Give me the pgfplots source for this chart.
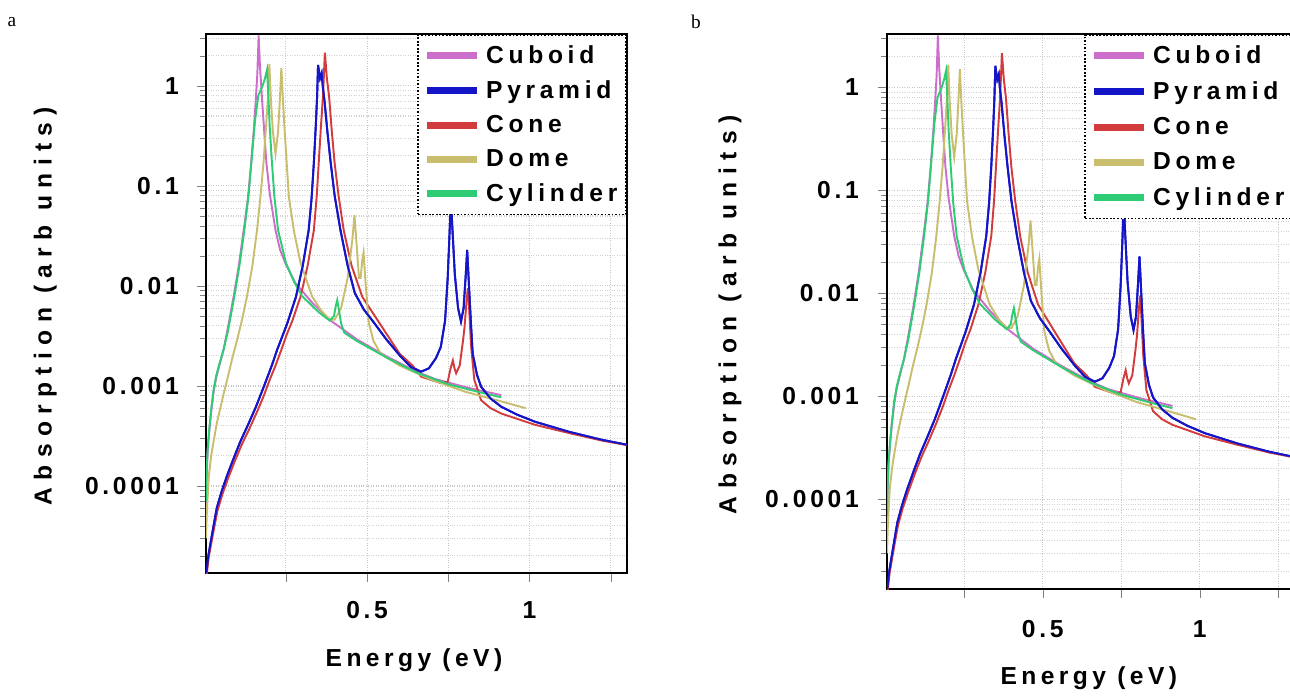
\documentclass[border=0pt]{standalone}
\usepackage{fontspec}
\setmainfont{Liberation Sans}
\newfontfamily\tkfont{Liberation Sans}[LetterSpace=15]
\newfontfamily\lgfont{Liberation Sans}[LetterSpace=19]
\newfontfamily\ylfont{Liberation Sans}[LetterSpace=30]
\newfontfamily\xlfont{Liberation Sans}[LetterSpace=18]
\newfontfamily\seriffont{Liberation Serif}
\usepackage{pgfplots}
\usepackage{pgfplotstable}
\pgfplotsset{compat=1.18}

\definecolor{cCub}{HTML}{CC6FCC}
\definecolor{cPyr}{HTML}{1414C8}
\definecolor{cCon}{HTML}{D23C3C}
\definecolor{cDom}{HTML}{C8BE6E}
\definecolor{cCyl}{HTML}{2ECC74}

% absorption spectra (energy in eV, arb units)
\pgfplotstableread{
x y
0.004 6e-5
0.006 1.3e-4
0.009 2.2e-4
0.014 3.5e-4
0.020 5.5e-4
0.027 8.5e-4
0.035 1.2e-3
0.045 1.6e-3
0.058 2.3e-3
0.072 3.9e-3
0.089 7.8e-3
0.105 0.016
0.120 0.036
0.133 0.075
0.143 0.17
0.151 0.36
0.157 0.7
0.162 1.3
0.166 3.2
0.170 1.6
0.176 0.78
0.182 0.4
0.190 0.17
0.200 0.085
0.218 0.036
0.232 0.023
0.248 0.017
0.279 0.0107
0.331 0.0068
0.388 0.0045
0.470 0.0029
0.563 0.00195
0.655 0.00138
0.707 0.00118
0.810 9.6e-4
0.913 8.1e-4
}\tabCub

\pgfplotstableread{
x y
0.005 1.35e-5
0.0115 2.04e-5
0.022 3.2e-5
0.037 6.0e-5
0.052 8.8e-5
0.068 1.25e-4
0.088 1.85e-4
0.109 2.75e-4
0.132 4.0e-4
0.156 6.0e-4
0.175 8.6e-4
0.192 1.2e-3
0.208 1.65e-3
0.223 2.3e-3
0.240 3.2e-3
0.255 4.3e-3
0.281 7.8e-3
0.302 0.016
0.320 0.036
0.329 0.075
0.336 0.17
0.342 0.4
0.346 0.78
0.349 1.62
0.355 1.19
0.360 1.34
0.364 0.95
0.369 0.7
0.378 0.34
0.388 0.169
0.400 0.08
0.418 0.036
0.440 0.016
0.462 0.0085
0.490 0.0058
0.521 0.0043
0.560 0.0029
0.604 0.00196
0.635 0.00155
0.666 0.00139
0.690 0.0015
0.712 0.0019
0.727 0.00247
0.740 0.0045
0.748 0.012
0.754 0.035
0.758 0.075
0.763 0.035
0.770 0.013
0.780 0.006
0.789 0.0044
0.797 0.006
0.803 0.012
0.808 0.0229
0.813 0.011
0.820 0.004
0.825 0.0021
0.838 0.0013
0.851 9.8e-4
0.880 7.5e-4
0.913 6.2e-4
0.960 5.2e-4
1.016 4.4e-4
1.119 3.5e-4
1.222 2.9e-4
1.304 2.57e-4
}\tabPyr

\pgfplotstableread{
x y
0.005 1.2e-5
0.012 1.9e-5
0.023 3.0e-5
0.039 5.6e-5
0.054 8.2e-5
0.071 1.17e-4
0.091 1.72e-4
0.113 2.55e-4
0.137 3.7e-4
0.162 5.6e-4
0.182 8.0e-4
0.200 1.15e-3
0.218 1.6e-3
0.236 2.3e-3
0.253 3.3e-3
0.270 4.5e-3
0.295 7.8e-3
0.317 0.016
0.336 0.036
0.345 0.08
0.351 0.17
0.358 0.4
0.364 0.78
0.370 2.15
0.376 1.2
0.383 0.78
0.391 0.36
0.400 0.169
0.412 0.08
0.428 0.036
0.452 0.016
0.485 0.0078
0.537 0.0043
0.600 0.0021
0.640 0.0016
0.666 0.00124
0.727 0.00107
0.748 0.0011
0.757 0.0015
0.764 0.0018
0.769 0.0015
0.774 0.00134
0.785 0.0016
0.795 0.0028
0.800 0.0039
0.806 0.007
0.810 0.0095
0.814 0.006
0.820 0.0025
0.830 0.00115
0.851 7.2e-4
0.880 6.0e-4
0.913 5.3e-4
1.016 4.1e-4
1.119 3.4e-4
1.222 2.85e-4
1.304 2.55e-4
}\tabCon

\pgfplotstableread{
x y
0.004 3e-5
0.007 6e-5
0.013 1.29e-4
0.020 2.0e-4
0.027 2.75e-4
0.037 4.2e-4
0.048 6.0e-4
0.060 8.8e-4
0.073 1.3e-3
0.085 1.9e-3
0.100 2.9e-3
0.115 4.6e-3
0.130 7.8e-3
0.147 0.016
0.161 0.036
0.172 0.08
0.181 0.17
0.189 0.4
0.195 0.78
0.199 1.65
0.204 0.7
0.210 0.35
0.218 0.21
0.226 0.35
0.232 0.8
0.236 1.5
0.241 0.7
0.246 0.36
0.259 0.078
0.275 0.035
0.295 0.017
0.331 0.0078
0.360 0.0056
0.385 0.0046
0.400 0.0046
0.420 0.006
0.440 0.012
0.455 0.03
0.461 0.051
0.468 0.025
0.475 0.012
0.480 0.012
0.485 0.018
0.489 0.0216
0.495 0.011
0.505 0.0043
0.520 0.0028
0.542 0.0021
0.600 0.0016
0.700 0.00115
0.800 8.8e-4
0.900 7.2e-4
0.988 6.0e-4
}\tabDom

\pgfplotstableread{
x y
0.004 7e-5
0.006 1.4e-4
0.009 2.3e-4
0.014 3.7e-4
0.020 5.8e-4
0.027 9.0e-4
0.035 1.25e-3
0.045 1.65e-3
0.058 2.3e-3
0.072 3.6e-3
0.091 7.8e-3
0.107 0.016
0.122 0.036
0.135 0.08
0.145 0.19
0.155 0.45
0.165 0.8
0.178 1.0
0.186 1.2
0.192 1.45
0.196 0.8
0.200 0.4
0.207 0.17
0.215 0.075
0.226 0.036
0.250 0.017
0.275 0.011
0.300 0.0079
0.350 0.0055
0.385 0.0045
0.398 0.0050
0.403 0.0062
0.408 0.0072
0.413 0.0058
0.420 0.0042
0.430 0.0034
0.470 0.0028
0.563 0.0019
0.655 0.00135
0.750 0.00104
0.850 8.6e-4
0.913 7.7e-4
}\tabCyl

\begin{document}
\begin{tikzpicture}
\useasboundingbox (0,0) rectangle (25.8,13.9);

\begin{axis}[scale only axis, anchor=south west, at={(4.12cm,2.44cm)},
    width=8.42cm, height=10.78cm,
    ymode=log, xmin=0.004, xmax=1.3, ymin=1.35e-5, ymax=3.3,
    axis line style={line width=1pt},
    tick pos=left, tick align=outside,
    major tick length=0.18cm, minor tick length=0.12cm,
    xtick={0.25,0.5,0.75,1,1.25}, xticklabels={,0.5,,1,},
    ytick={1e-4,1e-3,1e-2,0.1,1},
    yticklabels={0.0001,0.001,0.01,0.1,1},
    minor ytick={2e-5,3e-5,4e-5,5e-5,6e-5,7e-5,8e-5,9e-5,
      2e-4,3e-4,4e-4,5e-4,6e-4,7e-4,8e-4,9e-4,
      0.002,0.003,0.004,0.005,0.006,0.007,0.008,0.009,
      0.02,0.03,0.04,0.05,0.06,0.07,0.08,0.09,
      0.2,0.3,0.4,0.5,0.6,0.7,0.8,0.9,2,3},
    grid=both,
    major grid style={gray!45, densely dotted, line width=0.6pt},
    minor grid style={gray!35, densely dotted, line width=0.6pt},
    tick label style={font=\fontsize{14}{16}\selectfont\tkfont\bfseries},
    xticklabel style={yshift=-0.26cm},
    yticklabel style={xshift=-0.24cm},
    xlabel={Energy (eV)},
    ylabel={Absorption (arb units)},
    xlabel style={font=\fontsize{14}{16}\selectfont\xlfont\bfseries, anchor=center, at={(axis description cs:0.494,-0.162)}},
    ylabel style={font=\fontsize{14}{16}\selectfont\ylfont\bfseries, anchor=center, at={(axis description cs:-0.382,0.495)}},
    legend cell align=left,
    legend image code/.code={\draw[#1] (0cm,0cm) -- (1.0cm,0cm); \path (1.04cm,0cm);},
    legend image post style={solid, line width=4pt},
    legend style={at={(1,1)}, anchor=north east, draw=black, densely dotted,
      line width=1pt, fill=white, font=\fontsize{14}{16}\selectfont\lgfont\bfseries,
      inner xsep=3pt, inner ysep=4pt, row sep=4.2pt}]
\addplot[cCub, line width=1.1pt] table {\tabCub};
\addlegendentry{Cuboid}
\addplot[cPyr, line width=1.1pt] table {\tabPyr};
\addlegendentry{Pyramid}
\addplot[cCon, line width=1.1pt] table {\tabCon};
\addlegendentry{Cone}
\addplot[cDom, line width=1.1pt] table {\tabDom};
\addlegendentry{Dome}
\addplot[cCyl, line width=1.1pt] table {\tabCyl};
\addlegendentry{Cylinder}
\addplot[cPyr, line width=1.1pt, forget plot] table {\tabPyr};
\end{axis}

\begin{axis}[scale only axis, anchor=south west, at={(17.74cm,2.12cm)},
    width=8.14cm, height=11.1cm,
    ymode=log, xmin=0.004, xmax=1.3, ymin=1.35e-5, ymax=3.3,
    axis line style={line width=1pt},
    tick pos=left, tick align=outside,
    major tick length=0.18cm, minor tick length=0.12cm,
    xtick={0.25,0.5,0.75,1,1.25}, xticklabels={,0.5,,1,},
    ytick={1e-4,1e-3,1e-2,0.1,1},
    yticklabels={0.0001,0.001,0.01,0.1,1},
    minor ytick={2e-5,3e-5,4e-5,5e-5,6e-5,7e-5,8e-5,9e-5,
      2e-4,3e-4,4e-4,5e-4,6e-4,7e-4,8e-4,9e-4,
      0.002,0.003,0.004,0.005,0.006,0.007,0.008,0.009,
      0.02,0.03,0.04,0.05,0.06,0.07,0.08,0.09,
      0.2,0.3,0.4,0.5,0.6,0.7,0.8,0.9,2,3},
    grid=both,
    major grid style={gray!45, densely dotted, line width=0.6pt},
    minor grid style={gray!35, densely dotted, line width=0.6pt},
    tick label style={font=\fontsize{14}{16}\selectfont\tkfont\bfseries},
    xticklabel style={yshift=-0.32cm},
    yticklabel style={xshift=-0.26cm},
    xlabel={Energy (eV)},
    ylabel={Absorption (arb units)},
    xlabel style={font=\fontsize{14}{16}\selectfont\xlfont\bfseries, anchor=center, at={(axis description cs:0.496,-0.160)}},
    ylabel style={font=\fontsize{14}{16}\selectfont\ylfont\bfseries, anchor=center, at={(axis description cs:-0.386,0.494)}},
    legend cell align=left,
    legend image code/.code={\draw[#1] (0cm,0cm) -- (1.0cm,0cm); \path (1.04cm,0cm);},
    legend image post style={solid, line width=4pt},
    legend style={at={(1,1)}, anchor=north east, draw=black, densely dotted,
      line width=1pt, fill=white, font=\fontsize{14}{16}\selectfont\lgfont\bfseries,
      inner xsep=3pt, inner ysep=4pt, row sep=4.8pt}]
\addplot[cCub, line width=1.1pt] table {\tabCub};
\addlegendentry{Cuboid}
\addplot[cPyr, line width=1.1pt] table {\tabPyr};
\addlegendentry{Pyramid}
\addplot[cCon, line width=1.1pt] table {\tabCon};
\addlegendentry{Cone}
\addplot[cDom, line width=1.1pt] table {\tabDom};
\addlegendentry{Dome}
\addplot[cCyl, line width=1.1pt] table {\tabCyl};
\addlegendentry{Cylinder}
\addplot[cPyr, line width=1.1pt, forget plot] table {\tabPyr};
\end{axis}

\node[font=\fontsize{11}{12}\selectfont\seriffont, anchor=center] at (0.24,13.46) {a};
\node[font=\fontsize{11}{12}\selectfont\seriffont, anchor=center] at (13.92,13.46) {b};
\end{tikzpicture}
\end{document}
